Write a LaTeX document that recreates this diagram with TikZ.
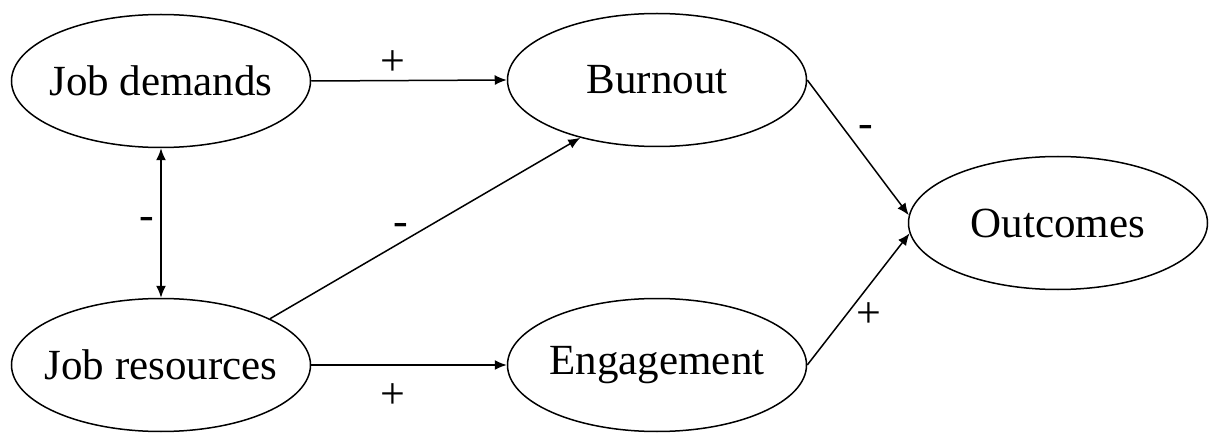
\documentclass[tikz,border=0pt]{standalone}
\usepackage{fontspec}
\setmainfont{Liberation Serif}
\usetikzlibrary{shapes.geometric,arrows.meta}
\begin{document}
\begin{tikzpicture}[x=0.5pt,y=-0.5pt,
  oval/.style={draw, ellipse, line width=0.75pt, minimum width=149.5pt, minimum height=66.5pt, inner sep=0pt,
    label={[font=\fontsize{21.5}{26}\selectfont, inner sep=0pt]center:#1}},
  tip/.tip={Latex[length=6pt,width=5pt]},
  conn/.style={line width=0.75pt, -tip},
  lbl/.style={font=\fontsize{22}{26}\selectfont, inner sep=2pt}]
\useasboundingbox (0,0) rectangle (1217,433);
\node[oval={Job demands}] (jd) at (161,81) {};
\node[oval={Burnout}] (bo) at (657,80) {};
\node[oval={Outcomes}] (oc) at (1058,223) {};
\node[oval={Job resources}] (jr) at (161,365) {};
\node[oval={Engagement}] (en) at (657,365) {};
\draw[conn] (jd.east) -- node[lbl, pos=0.42, above] {+} (bo.west);
\draw[conn, tip-tip] (jd.south) -- node[lbl, pos=0.5, left, inner sep=3pt] {-} (jr.north);
\draw[conn] (jr.23) -- node[lbl, pos=0.42, above, yshift=1pt] {-} (bo.217);
\draw[conn] (jr.east) -- node[lbl, pos=0.42, below, yshift=-7pt] {+} (en.west);
\draw[conn] (bo.east) -- node[lbl, pos=0.38, right, xshift=4pt] {-} (oc.177);
\draw[conn] (en.east) -- node[lbl, pos=0.38, right, xshift=3pt] {+} (oc.184);
\end{tikzpicture}
\end{document}
